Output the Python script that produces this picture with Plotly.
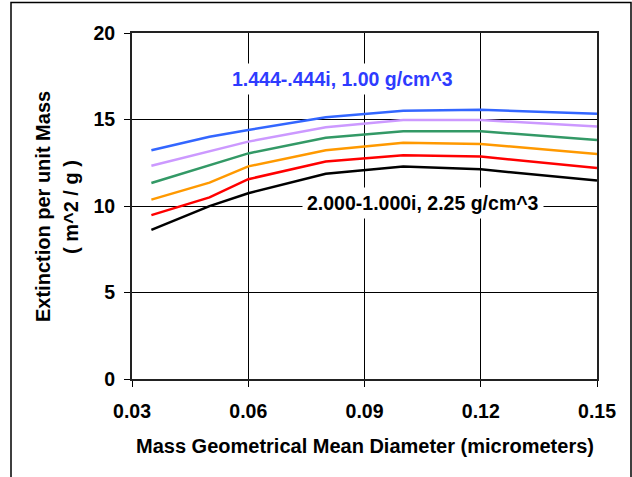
import plotly.graph_objects as go

# ---- data ----
diameter = [0.035, 0.05, 0.06, 0.08, 0.10, 0.12, 0.15]
s_blue = [13.22, 14.00, 14.39, 15.13, 15.50, 15.56, 15.33]
s_purple = [12.33, 13.18, 13.72, 14.55, 14.97, 14.97, 14.60]
s_green = [11.33, 12.36, 13.04, 13.95, 14.32, 14.32, 13.81]
s_orange = [10.37, 11.35, 12.29, 13.22, 13.65, 13.59, 13.00]
s_red = [9.47, 10.50, 11.55, 12.57, 12.94, 12.86, 12.20]
s_black = [8.62, 9.99, 10.74, 11.86, 12.28, 12.12, 11.47]

series = [
    (s_blue, "#3366FF"),
    (s_purple, "#CC99FF"),
    (s_green, "#339966"),
    (s_orange, "#FF9900"),
    (s_red, "#FF0000"),
    (s_black, "#000000"),
]

x_ticks = [0.03, 0.06, 0.09, 0.12, 0.15]
x_ticktext = ["0.03", "0.06", "0.09", "0.12", "0.15"]
y_ticks = [0, 5, 10, 15, 20]

label_top = "1.444-.444i, 1.00 g/cm^3"
label_bottom = "2.000-1.000i, 2.25 g/cm^3"
x_title = "Mass Geometrical Mean Diameter (micrometers)"
y_title1 = "Extinction per unit Mass"
y_title2 = "( m^2 / g )"

# ---- layout geometry (pixels) ----
W, H = 632, 477
ML, MR, MT, MB = 132, 35, 33, 98
PW, PH = W - ML - MR, H - MT - MB


def px(xp):
    return (xp - ML) / PW


def py(yp):
    return (H - MB - yp) / PH


FONT = "Arial, Liberation Sans, sans-serif"

fig = go.Figure()
for vals, col in series:
    fig.add_trace(go.Scatter(x=diameter, y=vals, mode="lines",
                             line=dict(color=col, width=2.5),
                             showlegend=False, hoverinfo="skip"))

fig.update_layout(
    width=W, height=H,
    margin=dict(l=ML, r=MR, t=MT, b=MB, pad=0),
    paper_bgcolor="white", plot_bgcolor="white",
    font=dict(family=FONT, color="black"),
    xaxis=dict(range=[0.03, 0.15], tickvals=x_ticks, ticktext=x_ticktext,
               showgrid=True, gridcolor="black", gridwidth=1,
               showline=True, linecolor="#222", linewidth=2, mirror=True,
               ticks="outside", ticklen=6, tickcolor="black", tickwidth=1,
               tickfont=dict(size=19.5, family=FONT, weight="bold"),
               ticklabelstandoff=8, zeroline=False),
    yaxis=dict(range=[0, 20], tickvals=y_ticks,
               showgrid=True, gridcolor="black", gridwidth=1,
               showline=True, linecolor="#222", linewidth=2, mirror=True,
               ticks="outside", ticklen=6, tickcolor="black", tickwidth=1,
               tickfont=dict(size=19.5, family=FONT, weight="bold"),
               ticklabelstandoff=5, zeroline=False),
)

# outer border of chart area
fig.add_shape(type="rect", xref="paper", yref="paper",
              x0=px(11), x1=px(631), y0=py(2.5), y1=py(490),
              line=dict(color="black", width=1.5), fillcolor="rgba(0,0,0,0)",
              layer="above")

fig.add_annotation(text=f"<b>{label_top}</b>", xref="paper", yref="paper",
                   x=px(342), y=py(79), xanchor="center", yanchor="middle",
                   showarrow=False, bgcolor="white", borderpad=4,
                   font=dict(size=19.5, color="#2E3BFF", family=FONT))
fig.add_annotation(text=f"<b>{label_bottom}</b>", xref="paper", yref="paper",
                   x=px(423), y=py(203), xanchor="center", yanchor="middle",
                   showarrow=False, bgcolor="white", borderpad=4,
                   font=dict(size=19.5, color="black", family=FONT))

fig.add_annotation(text=f"<b>{x_title}</b>", xref="paper", yref="paper",
                   x=px(365), y=py(446), xanchor="center", yanchor="middle",
                   showarrow=False, font=dict(size=20, family=FONT))
fig.add_annotation(text=f"<b>{y_title1}</b>", xref="paper", yref="paper",
                   x=px(43), y=py(207), xanchor="center", yanchor="middle",
                   textangle=-90, showarrow=False, font=dict(size=20, family=FONT))
fig.add_annotation(text=f"<b>{y_title2}</b>", xref="paper", yref="paper",
                   x=px(71), y=py(207), xanchor="center", yanchor="middle",
                   textangle=-90, showarrow=False, font=dict(size=20, family=FONT))

fig.write_html("out.html")
